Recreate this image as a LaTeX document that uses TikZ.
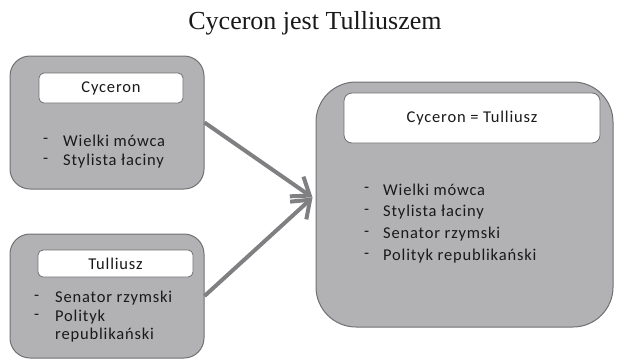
\documentclass[tikz,border=0pt]{standalone}
\usepackage{fontspec}
\setmainfont{Liberation Serif}
\newfontfamily\calfont[LetterSpace=5]{Carlito}
\usetikzlibrary{arrows.meta}
\definecolor{boxfill}{RGB}{178,178,181}
\definecolor{boxline}{RGB}{112,112,115}
\definecolor{arrgray}{RGB}{128,128,131}
\definecolor{txt}{RGB}{25,25,25}
\tikzset{
  bigbox/.style={draw=boxline, line width=1pt, fill=boxfill, rounded corners=20pt, inner sep=0pt},
  labbox/.style={draw=boxline, line width=0.8pt, fill=white, rounded corners=5pt, inner sep=0pt, font=\calfont\fontsize{16.5}{19}\selectfont, text=txt},
  item/.style={anchor=west, inner sep=0pt, font=\calfont\fontsize{16.5}{19}\selectfont, text=txt},
  arr/.style={draw=arrgray, line width=4pt, -{Straight Barb[length=16pt,width=24pt,line width=4pt]}}
}
\begin{document}
\begin{tikzpicture}[x=1pt,y=-1pt]
\useasboundingbox (0,0) rectangle (617,362);
\node[font=\fontsize{26}{30}\selectfont, text=txt] (title) at (315,23) {Cyceron jest Tulliuszem};
% left top
\node[bigbox, minimum width=194pt, minimum height=133pt] (ltop) at (107,122.5) {};
\node[labbox, minimum width=144pt, minimum height=30pt] (lab1) at (111,88) {Cyceron};
\node[item] (d11) at (43,141) {-};
\node[item] (t11) at (63,141) {Wielki mówca};
\node[item] (d12) at (43,161) {-};
\node[item] (t12) at (63,161) {Stylista łaciny};
% left bottom
\node[bigbox, minimum width=194pt, minimum height=124pt] (lbot) at (107,296) {};
\node[labbox, minimum width=155pt, minimum height=27pt] (lab2) at (115.5,263.5) {Tulliusz};
\node[item] (d21) at (34,298) {-};
\node[item] (t21) at (55,298) {Senator rzymski};
\node[item] (d22) at (34,317) {-};
\node[item] (t22) at (55,317) {Polityk};
\node[item] (t23) at (55,335) {republikański};
% right
\node[bigbox, rounded corners=40pt, minimum width=297pt, minimum height=245pt] (rbox) at (464.5,204.5) {};
\node[labbox, rounded corners=8pt, minimum width=256pt, minimum height=50pt] (lab3) at (472,118) {Cyceron = Tulliusz};
\node[item] (d31) at (364,190) {-};
\node[item] (t31) at (383,190) {Wielki mówca};
\node[item] (d32) at (364,212) {-};
\node[item] (t32) at (383,212) {Stylista łaciny};
\node[item] (d33) at (364,234) {-};
\node[item] (t33) at (383,234) {Senator rzymski};
\node[item] (d34) at (364,256) {-};
\node[item] (t34) at (383,256) {Polityk republikański};
% arrows
\coordinate (tip) at ([xshift=-3pt,yshift=7pt]rbox.west);
\draw[arr] (ltop.east) -- (tip);
\draw[arr] (lbot.east) -- (tip);
\end{tikzpicture}
\end{document}
